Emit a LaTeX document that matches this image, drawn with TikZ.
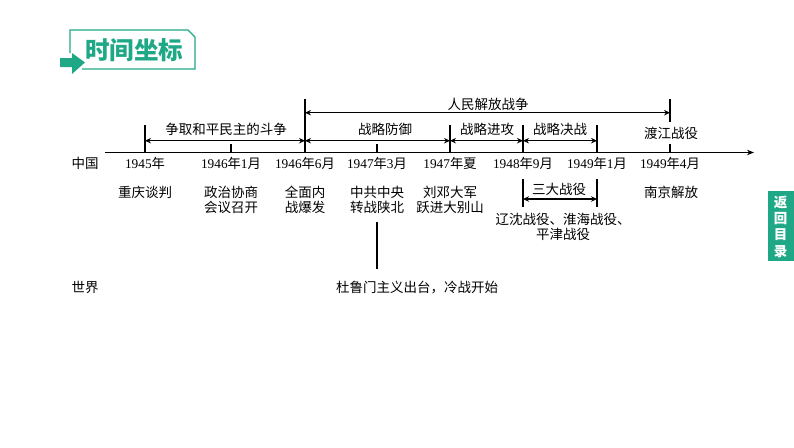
\documentclass[tikz,border=0pt]{standalone}
\usepackage{fontspec}
\setmainfont{Liberation Serif}
\newfontfamily\cjk{Noto Sans CJK SC}
\usetikzlibrary{arrows.meta}
\definecolor{brandgreen}{HTML}{1FA886}
\newcommand{\nian}{{\cjk 年}}
\newcommand{\yue}{{\cjk 月}}
\tikzset{
  lbl/.style={inner sep=0pt,align=center,text=black,font=\cjk\fontsize{13.5}{15}\selectfont},
  datelbl/.style={inner sep=0pt,text=black,font=\fontsize{13.3}{15}\selectfont},
  rule/.style={draw=black,line width=1.2pt},
  span/.style={draw=black,line width=1.1pt,{Stealth[length=6pt,width=5.5pt]}-{Stealth[length=6pt,width=5.5pt]}},
  axisline/.style={draw=black,line width=1.2pt,-{Stealth[length=7pt,width=5.5pt]}}
}
\begin{document}
\begin{tikzpicture}[x=1pt,y=-1pt]
\useasboundingbox (0,0) rectangle (794,447);
% title badge
\draw[brandgreen,line width=1.3pt] (70,53) -- (70,30) -- (188,30) -- (195,37) -- (195,69) -- (82,69);
\fill[brandgreen] (60,58) -- (72,58) -- (72,53) -- (85,62.5) -- (72,74) -- (72,67) -- (60,67) -- cycle;
\node[inner sep=0pt,text=brandgreen,font=\cjk\bfseries\fontsize{24.5}{26}\selectfont] (title) at (134,50) {时间坐标};
% side tab
\node[fill=brandgreen,minimum width=26pt,minimum height=70pt,inner sep=0pt,anchor=north west] (tab) at (768,191) {};
\node[inner sep=0pt,text=white,align=center,font=\cjk\bfseries\fontsize{13.5}{16.3}\selectfont] (tabtext) at (780.5,226.5) {返\\回\\目\\录};
% anchors on axis
\coordinate (axstart) at (105,152.5);
\coordinate (axend) at (754,152.5);
\coordinate (a45) at (145,152.5);
\coordinate (a46a) at (231,152.5);
\coordinate (a46b) at (305,152.5);
\coordinate (a47a) at (377,152.5);
\coordinate (a47b) at (450,152.5);
\coordinate (a48) at (523,152.5);
\coordinate (a49a) at (597,152.5);
\coordinate (a49b) at (670,152.5);
\coordinate (t45) at (145,125);
\coordinate (t46a) at (231,144);
\coordinate (t46b) at (305,99);
\coordinate (t47a) at (377,144);
\coordinate (t47b) at (450,125);
\coordinate (t48) at (523,125);
\coordinate (t49a) at (597,125);
\coordinate (t49b) at (670,99);
\coordinate (t49c) at (670,122);
\coordinate (t49d) at (670,144);
\draw[axisline] (axstart) -- (axend);
\draw[rule] (a45) -- (t45);
\draw[rule] (a46a) -- (t46a);
\draw[rule] (a46b) -- (t46b);
\draw[rule] (a47a) -- (t47a);
\draw[rule] (a47b) -- (t47b);
\draw[rule] (a48) -- (t48);
\draw[rule] (a49a) -- (t49a);
\draw[rule] (t49b) -- (t49c);
\draw[rule] (a49b) -- (t49d);
% spans
\coordinate (s1) at (145,140.7);
\coordinate (s2) at (305,140.7);
\coordinate (s3) at (450,140.7);
\coordinate (s4) at (523,140.7);
\coordinate (s5) at (597,140.7);
\coordinate (u1) at (305,112.7);
\coordinate (u2) at (670,112.7);
\draw[span] (s1) -- (s2);
\draw[span] (s2) -- (s3);
\draw[span] (s3) -- (s4);
\draw[span] (s4) -- (s5);
\draw[span] (u1) -- (u2);
% span labels
\node[lbl] (l1) at (226,129) {争取和平民主的斗争};
\node[lbl] (l2) at (385,129) {战略防御};
\node[lbl] (l3) at (487,129) {战略进攻};
\node[lbl] (l4) at (560,129) {战略决战};
\node[lbl] (l5) at (488,104) {人民解放战争};
\node[lbl] (l6) at (671,133) {渡江战役};
% dates
\node[lbl] (cn) at (85,163) {中国};
\node[datelbl] (d1) at (145,163) {1945\nian};
\node[datelbl] (d2) at (231,163) {1946\nian 1\yue};
\node[datelbl] (d3) at (305,163) {1946\nian 6\yue};
\node[datelbl] (d4) at (377,163) {1947\nian 3\yue};
\node[datelbl] (d5) at (450,163) {1947\nian{\cjk 夏}};
\node[datelbl] (d6) at (523,163) {1948\nian 9\yue};
\node[datelbl] (d7) at (597,163) {1949\nian 1\yue};
\node[datelbl] (d8) at (670,163) {1949\nian 4\yue};
% events
\node[lbl] (e1) at (145,192) {重庆谈判};
\node[lbl] (e2) at (231,199.5) {政治协商\\会议召开};
\node[lbl] (e3) at (305,199.5) {全面内\\战爆发};
\node[lbl] (e4) at (377,199.5) {中共中央\\转战陕北};
\node[lbl] (e5) at (450,199.5) {刘邓大军\\跃进大别山};
\node[lbl] (e6) at (671,192) {南京解放};
% three campaigns
\coordinate (b1a) at (523,179);
\coordinate (b1b) at (523,207);
\coordinate (b2a) at (597,179);
\coordinate (b2b) at (597,207);
\coordinate (b3a) at (523,199);
\coordinate (b3b) at (597,199);
\draw[rule] (b1a) -- (b1b);
\draw[rule] (b2a) -- (b2b);
\draw[span] (b3a) -- (b3b);
\node[lbl] (e7) at (559,189) {三大战役};
\node[lbl] (e8) at (563,227) {辽沈战役、淮海战役、\\平津战役};
% world
\node[lbl] (w) at (85,287.5) {世界};
\node[lbl] (w1) at (417,287.5) {杜鲁门主义出台，冷战开始};
\coordinate (v1) at (377,222);
\coordinate (v2) at (377,269);
\draw[rule] (v1) -- (v2);
\end{tikzpicture}
\end{document}
